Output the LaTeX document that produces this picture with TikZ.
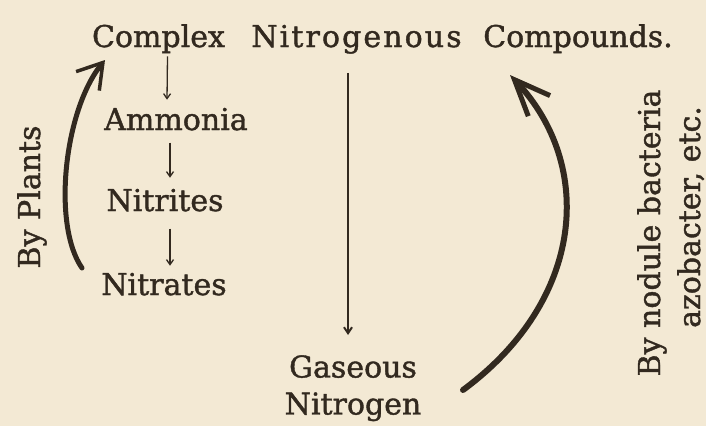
\documentclass[tikz,border=0pt]{standalone}
\usepackage{fontspec}
\setmainfont{DejaVu Serif}
\newfontfamily\inkfont{DejaVu Serif}[FakeBold=1.3]
\usetikzlibrary{arrows.meta,calc}
\definecolor{paper}{HTML}{F3E9D4}
\definecolor{ink}{HTML}{32291F}
\begin{document}
\begin{tikzpicture}[x=1pt,y=-1pt,
  lbl/.style={inner sep=0pt, text=ink, font=\inkfont\fontsize{30}{37}\selectfont},
  sarrow/.style={draw=ink, line width=1.3pt, -{Straight Barb[length=5pt,width=7pt]}},
  larrow/.style={draw=ink, line width=2pt, -{Straight Barb[length=6pt,width=8pt]}},
  bigarrow/.style={draw=ink, line cap=round, line width=5pt},
]
\fill[paper] (0,0) rectangle (706,426);
\useasboundingbox (0,0) rectangle (706,426);

% top line
\node[lbl, anchor=base] (cx) at (158.5,47) {Complex};
\node[lbl, anchor=base] (ng) at (356.5,47) {\addfontfeature{LetterSpace=7}Nitrogenous};
\node[lbl, anchor=base] (cp) at (578,47) {Compounds.};

% left chain
\node[lbl, anchor=base] (amm) at (176,130) {Ammonia};
\node[lbl, anchor=base] (nii) at (165,211) {Nitrites};
\node[lbl, anchor=base] (nia) at (164,295) {Nitrates};

% bottom
\node[lbl, anchor=north, align=center] (gas) at (353,355) {Gaseous\\Nitrogen};

% side labels
\node[lbl, anchor=base, rotate=90] (byp) at (40,197) {By Plants};
\node[lbl, anchor=base, rotate=90] (byn) at (660,233) {By nodule bacteria};
\node[lbl, anchor=base, rotate=90] (azo) at (700,217) {azobacter, etc.};

% small arrows
\draw[sarrow] ([xshift=9pt,yshift=-3pt]cx.south) -- ([xshift=-9pt,yshift=8pt]amm.north);
\draw[sarrow] ([xshift=-6pt,yshift=-12pt]amm.south) -- ([xshift=5pt,yshift=11pt]nii.north);
\draw[sarrow] ([xshift=5pt,yshift=-17pt]nii.south) -- ([xshift=6pt,yshift=7pt]nia.north);

% long vertical arrow
\draw[larrow] ([xshift=-8.5pt,yshift=-19pt]ng.south) -- ([xshift=-5pt,yshift=20pt]gas.north);

% big curved arrows
\coordinate (pstart) at (82,268);
\coordinate (pend) at (105,60);
\draw[bigarrow, -{Straight Barb[length=24pt,width=30pt,line width=3.5pt]}]
  (pstart) .. controls (52,225) and (64,110) .. (pend);

\coordinate (nstart) at (463,390);
\coordinate (nend) at (510,75);
\draw[bigarrow, line width=6pt, -{Straight Barb[length=36pt,width=30pt,line width=5pt]}]
  (nstart) .. controls (585,300) and (595,165) .. (nend);
\end{tikzpicture}
\end{document}
